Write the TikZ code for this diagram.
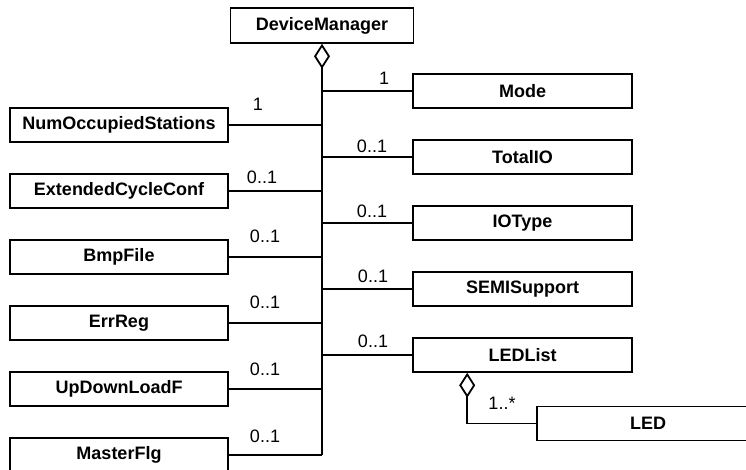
\documentclass[tikz,border=0pt]{standalone}
\usepackage{fontspec}
\setmainfont{Liberation Sans}
\usetikzlibrary{arrows.meta}
\usetikzlibrary{positioning}

\begin{document}
\begin{tikzpicture}[x=1pt,y=1pt,node distance=66pt,
                    class node/.style={draw,line width=1.6pt,minimum height=34pt,
                      inner sep=0pt,font=\fontsize{18}{20}\selectfont\bfseries},
                    left node/.style={class node,minimum width=218pt},
                    right node/.style={class node,minimum width=219pt},
                    mult/.style={inner sep=0pt,font=\fontsize{18}{20}\selectfont},
                    link/.style={line width=1.3pt},
                    agg/.style={line width=1.8pt,{Diamond[open,width=16pt,length=25pt]}-}]

  \useasboundingbox (0,0) rectangle (746,469);
  \clip (0,0) rectangle (746,469);

  \node[class node,minimum width=183pt,minimum height=35pt] (DM) at (322,443.5) {DeviceManager};

  % right column
  \node[right node] (Mode) at (522.5,378) {Mode};
  \node[right node] (TIO) [below of=Mode] {TotalIO};
  \node[right node] (IOT) [below of=TIO] {IOType};
  \node[right node] (SEMI) [below of=IOT] {SEMISupport};
  \node[right node] (LL) [below of=SEMI] {LEDList};
  \node[class node,minimum width=222pt] (LED) at (648,45.5) {LED};

  % left column
  \node[left node] (NOS) at (119,344) {NumOccupiedStations};
  \node[left node] (ECC) [below of=NOS] {ExtendedCycleConf};
  \node[left node] (BMP) [below of=ECC] {BmpFile};
  \node[left node] (ERR) [below of=BMP] {ErrReg};
  \node[left node] (UDL) [below of=ERR] {UpDownLoadF};
  \node[left node] (MF) [below of=UDL] {MasterFlg};

  % aggregation trunk
  \draw[agg] (DM.south) -- (DM.south |- MF.east);

  \draw[link] (DM.south |- Mode.west) -- (Mode.west);
  \draw[link] (DM.south |- TIO.west) -- (TIO.west);
  \draw[link] (DM.south |- IOT.west) -- (IOT.west);
  \draw[link] (DM.south |- SEMI.west) -- (SEMI.west);
  \draw[link] (DM.south |- LL.west) -- (LL.west);

  \draw[link] (NOS.east) -- (NOS.east -| DM.south);
  \draw[link] (ECC.east) -- (ECC.east -| DM.south);
  \draw[link] (BMP.east) -- (BMP.east -| DM.south);
  \draw[link] (ERR.east) -- (ERR.east -| DM.south);
  \draw[link] (UDL.east) -- (UDL.east -| DM.south);
  \draw[link] (MF.east) -- (MF.east -| DM.south);

  \coordinate (LLjoin) at ([xshift=55pt]LL.south west);
  \draw[agg] (LLjoin) |- (LED.west);

  % multiplicities
  \node[mult] (mMode) at (384,391) {1};
  \node[mult] (mTIO) at (372,323) {0..1};
  \node[mult] (mIOT) at (372,258) {0..1};
  \node[mult] (mSEMI) at (373,193) {0..1};
  \node[mult] (mLL) at (373,128) {0..1};
  \node[mult] (mLED) at (502,66) {1..*};

  \node[mult] (mNOS) at (258,365) {1};
  \node[mult] (mECC) at (262,292) {0..1};
  \node[mult] (mBMP) at (265,233) {0..1};
  \node[mult] (mERR) at (265,167) {0..1};
  \node[mult] (mUDL) at (265,100) {0..1};
  \node[mult] (mMF) at (265,33) {0..1};
\end{tikzpicture}
\end{document}
